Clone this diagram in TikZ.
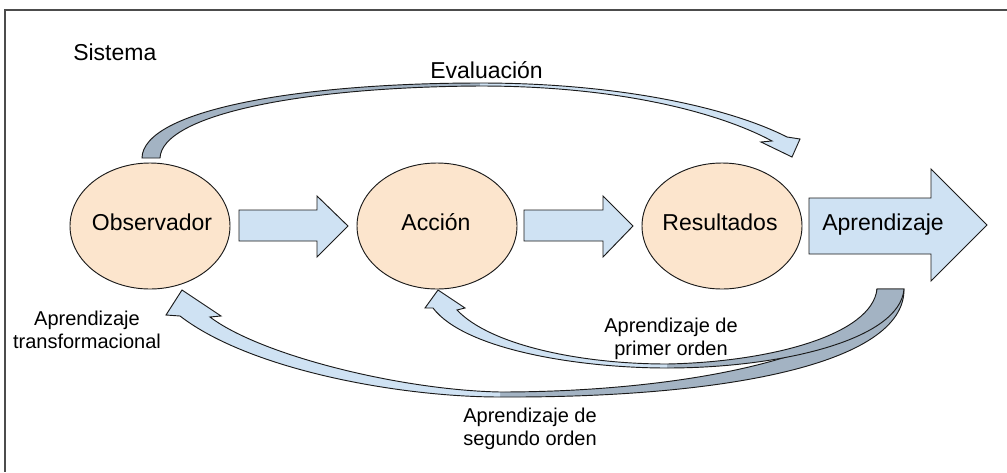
\documentclass[tikz,border=0pt]{standalone}
\usepackage{fontspec}
\setmainfont{Liberation Sans}
\usetikzlibrary{shapes.geometric}
\definecolor{peach}{HTML}{FCE5CD}
\definecolor{lblue}{HTML}{CFE2F3}
\definecolor{dblue}{HTML}{A3B3C3}
\definecolor{edge}{HTML}{1A1A1A}
\begin{document}
\begin{tikzpicture}[x=0.75pt,y=-0.75pt,
  bub/.style={ellipse, draw=edge, line width=0.7pt, fill=peach, minimum width=120pt, minimum height=94.5pt, inner sep=0pt},
  big/.style={font=\fontsize{17.25}{20.7}\selectfont, inner sep=0pt, text=black},
  small/.style={font=\fontsize{15}{17.25}\selectfont, inner sep=0pt, text=black},
  blk/.style={draw=edge, line width=0.7pt, fill=lblue, line join=miter},
  under/.style={fill=dblue},
  over/.style={fill=lblue},
  outline/.style={draw=edge, line width=0.7pt, line join=miter},
  frame/.style={draw=black!70, line width=0.8pt}]
\useasboundingbox (0,0) rectangle (1007,472);
\fill[white] (0,0) rectangle (1007,472);
\draw[frame] (1007,10) -- (5,10) -- (5,472);

% ellipses
\node[bub] (obs) at (150,226) {};
\node[bub] (acc) at (437,226) {};
\node[bub] (res) at (722,226) {};

% block arrows
\draw[blk] (239,210) -- (317,210) -- (317,196) -- (348,226) -- (317,257) -- (317,241) -- (239,241) -- cycle;
\draw[blk] (524,210) -- (603,210) -- (603,196) -- (633,226) -- (603,257) -- (603,241) -- (524,241) -- cycle;
\draw[blk] (809,198) -- (931,198) -- (931,169) -- (987,225) -- (931,281) -- (931,254) -- (809,254) -- cycle;

% top curved arrow (Evaluacion)
\fill[under] (142,158) .. controls (143,110) and (300,83) .. (480,83) -- (480,86) .. controls (300,87) and (162,115) .. (160,158) -- cycle;
\fill[over] (480,83) .. controls (620,83) and (730,108) .. (787,137) -- (800,139) -- (792,157) -- (761,142) -- (772,141) .. controls (720,113) and (620,86) .. (480,86) -- cycle;
\path[outline] (142,158) .. controls (143,110) and (300,83) .. (480,83) .. controls (620,83) and (730,108) .. (787,137) -- (800,139) -- (792,157) -- (761,142) -- (772,141) .. controls (720,113) and (620,86) .. (480,86) .. controls (300,87) and (162,115) .. (160,158) -- cycle;

% second-order arrow
\fill[under] (904,289) .. controls (905,365) and (720,398) .. (500,397) -- (500,392) .. controls (700,392) and (877,350) .. (877,289) -- cycle;
\fill[over] (500,397) .. controls (400,397) and (250,370) .. (180,316) -- (166,315) -- (182,290) -- (221,316) -- (210,317) .. controls (260,355) and (400,390) .. (500,392) -- cycle;
\path[outline] (904,289) .. controls (905,365) and (720,398) .. (500,397) .. controls (400,397) and (250,370) .. (180,316) -- (166,315) -- (182,290) -- (221,316) -- (210,317) .. controls (260,355) and (400,390) .. (500,392) .. controls (700,392) and (877,350) .. (877,289) -- cycle;

% first-order arrow
\fill[under] (904,289) .. controls (900,340) and (780,368) .. (667,368) -- (667,364) .. controls (770,362) and (872,335) .. (877,289) -- cycle;
\fill[over] (667,368) .. controls (580,368) and (465,350) .. (433,308) -- (425,308) -- (438,290) -- (465,308) -- (457,310) .. controls (490,345) and (580,364) .. (667,364) -- cycle;
\path[outline] (904,289) .. controls (900,340) and (780,368) .. (667,368) .. controls (580,368) and (465,350) .. (433,308) -- (425,308) -- (438,290) -- (465,308) -- (457,310) .. controls (490,345) and (580,364) .. (667,364) .. controls (770,362) and (872,335) .. (877,289) -- cycle;

% texts
\node[big, anchor=base west] (sis) at (73,60) {Sistema};
\node[big, anchor=base west] (eva) at (430,78) {Evaluación};
\node[big, anchor=base] (tobs) at (152,230) {Observador};
\node[big, anchor=base] (tacc) at (436,230) {Acción};
\node[big, anchor=base] (tres) at (720,230) {Resultados};
\node[big, anchor=base] (tapr) at (883,230) {Aprendizaje};
\node[small, anchor=base] (ltr) at (87,325) {\begin{tabular}[t]{@{}c@{}}Aprendizaje\\transformacional\end{tabular}};
\node[small, anchor=base] (lpo) at (671,332) {\begin{tabular}[t]{@{}c@{}}Aprendizaje de\\primer orden\end{tabular}};
\node[small, anchor=base] (lso) at (530,422) {\begin{tabular}[t]{@{}c@{}}Aprendizaje de\\segundo orden\end{tabular}};
\end{tikzpicture}
\end{document}
